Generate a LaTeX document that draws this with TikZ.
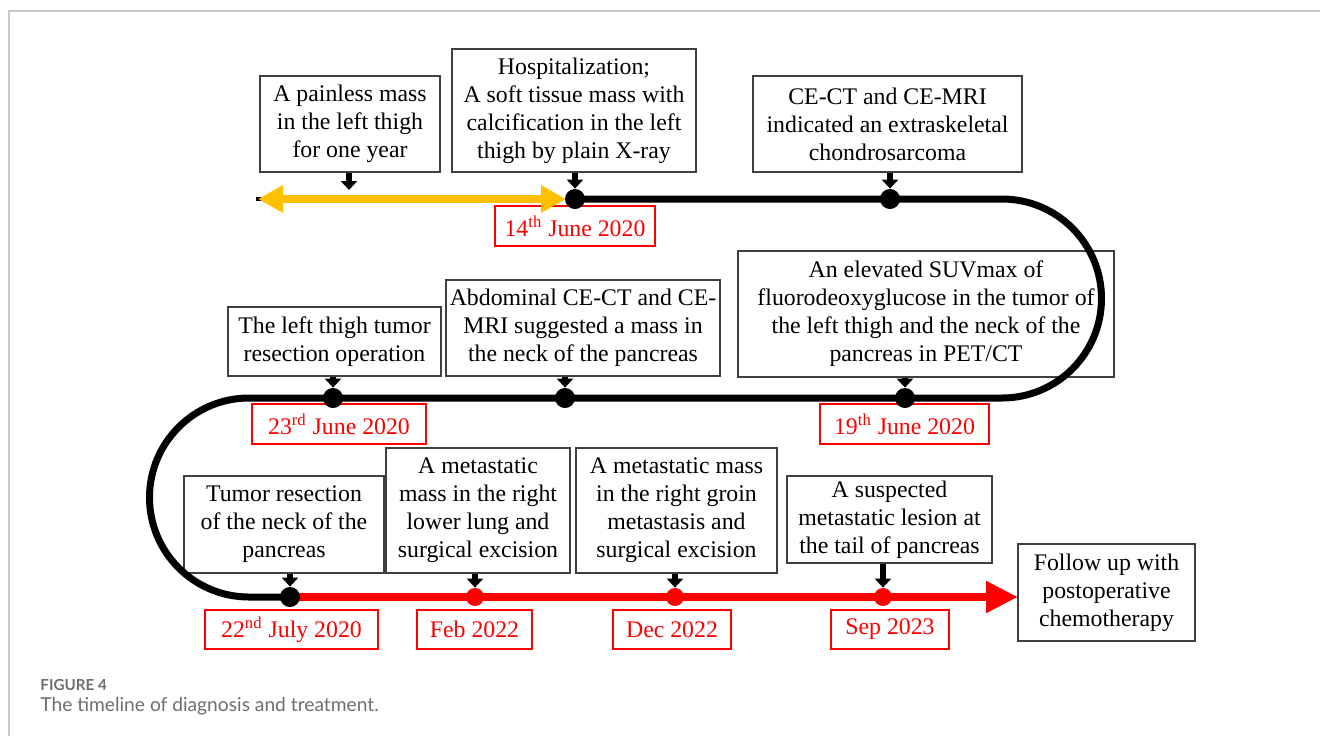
\documentclass[tikz,border=0pt]{standalone}
\usepackage{fontspec}
\setmainfont{Liberation Serif}
\newfontfamily\capfont{Lato}
\usetikzlibrary{arrows.meta}
\definecolor{tlred}{RGB}{255,0,0}
\definecolor{tlyellow}{RGB}{255,192,0}
\definecolor{boxgray}{RGB}{64,64,64}
\definecolor{framegray}{RGB}{200,200,200}
\definecolor{capgray}{RGB}{110,110,110}
\begin{document}
\begin{tikzpicture}[x=0.5pt,y=-0.5pt,
  evbox/.style={draw=boxgray,line width=0.6pt,align=center,inner sep=0pt,font=\fontsize{11.9}{14}\selectfont},
  datebox/.style={draw=tlred,line width=0.6pt,text=tlred,inner sep=0pt,minimum height=20pt,font=\fontsize{11.9}{14}\selectfont},
  bdot/.style={circle,fill=black,inner sep=0pt,minimum size=10pt},
  rdot/.style={circle,fill=tlred,inner sep=0pt,minimum size=9pt},
  downarr/.style={line width=2.8pt,-{Triangle[width=8pt,length=4.5pt]}},
  mainline/.style={line width=3.5pt},
]
\useasboundingbox (0,0) rectangle (1320,736);
% frame
\draw[framegray,line width=0.7pt] (1320,11) -- (9,11) -- (9,736);

% event boxes
\node[evbox,minimum width=90pt,minimum height=48pt] (b1) at (350,124) {A painless mass\\in the left thigh\\for one year};
\node[evbox,minimum width=122pt,minimum height=61.5pt] (b2) at (574,110.5) {Hospitalization;\\A soft tissue mass with\\calcification in the left\\thigh by plain X-ray};
\node[evbox,minimum width=134.5pt,minimum height=48pt] (b3) at (887.5,124) {CE-CT and CE-MRI\\indicated an extraskeletal\\chondrosarcoma};
\node[evbox,minimum width=106.5pt,minimum height=34.5pt] (b5) at (334.5,341.5) {The left thigh tumor\\resection operation};
\node[evbox,minimum width=137pt,minimum height=48pt] (b6) at (583,328) {Abdominal CE-CT and CE-\\MRI suggested a mass in\\the neck of the pancreas};
\node[evbox,minimum width=188pt,minimum height=63pt] (b7) at (926,314) {An elevated SUVmax of\\fluorodeoxyglucose in the tumor of\\the left thigh and the neck of the\\pancreas in PET/CT};
\node[evbox,minimum width=100pt,minimum height=48.5pt] (b10) at (284,524.5) {Tumor resection\\of the neck of the\\pancreas};
\node[evbox,minimum width=92pt,minimum height=62.5pt] (b11) at (478,510.5) {A metastatic\\mass in the right\\lower lung and\\surgical excision};
\node[evbox,minimum width=100.5pt,minimum height=62.5pt] (b12) at (676.5,510.5) {A metastatic mass\\in the right groin\\metastasis and\\surgical excision};
\node[evbox,minimum width=102.5pt,minimum height=43.5pt] (b13) at (889.5,519.5) {A suspected\\metastatic lesion at\\the tail of pancreas};
\node[evbox,minimum width=88.5pt,minimum height=48.5pt] (b14) at (1106.5,592.5) {Follow up with\\postoperative\\chemotherapy};

% date boxes
\node[datebox,minimum width=80pt] (t1) at (575,226) {14\textsuperscript{th} June 2020};
\node[datebox,minimum width=87pt] (t2) at (339,424) {23\textsuperscript{rd} June 2020\hspace{6pt}};
\node[datebox,minimum width=84.5pt] (t3) at (904.5,424) {19\textsuperscript{th} June 2020};
\node[datebox,minimum width=86.5pt,minimum height=19.5pt] (t4) at (291.5,629.5) {22\textsuperscript{nd} July 2020};
\node[datebox,minimum width=57.5pt,minimum height=19.5pt] (t5) at (474.5,629.5) {Feb 2022};
\node[datebox,minimum width=59pt,minimum height=19.5pt] (t6) at (672,629.5) {Dec 2022};
\node[datebox,minimum width=59pt,minimum height=19.5pt] (t7) at (890,629.5) {Sep 2023};

% timeline
\fill (256,197) rectangle (262,201);
\draw[tlyellow,line width=4pt,{Triangle[width=13pt,length=12.5pt]}-{Triangle[width=13pt,length=12.5pt]}] (258,199) -- (566,199);
\draw[mainline] (575,199) -- (1002,199) arc[start angle=-90,end angle=90,radius=99.5] -- (249,398) arc[start angle=270,end angle=90,radius=99.5] -- (292,597);
\coordinate (yend) at (1018,597);
\draw[tlred,line width=4pt,-{Triangle[width=15pt,length=16pt]}] (290,597) -- (yend);

% dots
\node[bdot] (p2) at (575,199) {};
\node[bdot] (p3) at (890,199) {};
\node[bdot] (p5) at (333,398) {};
\node[bdot] (p6) at (565,398) {};
\node[bdot] (p7) at (905,398) {};
\node[bdot] (p10) at (290,597) {};
\node[rdot] (p11) at (475,597) {};
\node[rdot] (p12) at (675,597) {};
\node[rdot] (p13) at (883,597) {};
\coordinate (p1) at (349,190);

% small arrows
\draw[downarr] (b1.south -| p1) -- (p1);
\draw[downarr] (b2.south -| p2) -- (p2.north);
\draw[downarr] (b3.south -| p3) -- (p3.north);
\draw[downarr] (b5.south -| p5) -- (p5.north);
\draw[downarr] (b6.south -| p6) -- (p6.north);
\draw[downarr] (b7.south -| p7) -- (p7.north);
\draw[downarr] (b10.south -| p10) -- (p10.north);
\draw[downarr] (b11.south -| p11) -- (p11.north);
\draw[downarr] (b12.south -| p12) -- (p12.north);
\draw[downarr] (b13.south -| p13) -- (p13.north);

% caption
\node[anchor=base west,inner sep=0pt,text=capgray,font=\capfont\bfseries\fontsize{7.6}{9}\selectfont] (cap1) at (40,690) {FIGURE 4};
\node[anchor=base west,inner sep=0pt,text=capgray,font=\capfont\fontsize{9.6}{12}\selectfont] (cap2) at (40,711) {The timeline of diagnosis and treatment.};
\end{tikzpicture}
\end{document}
